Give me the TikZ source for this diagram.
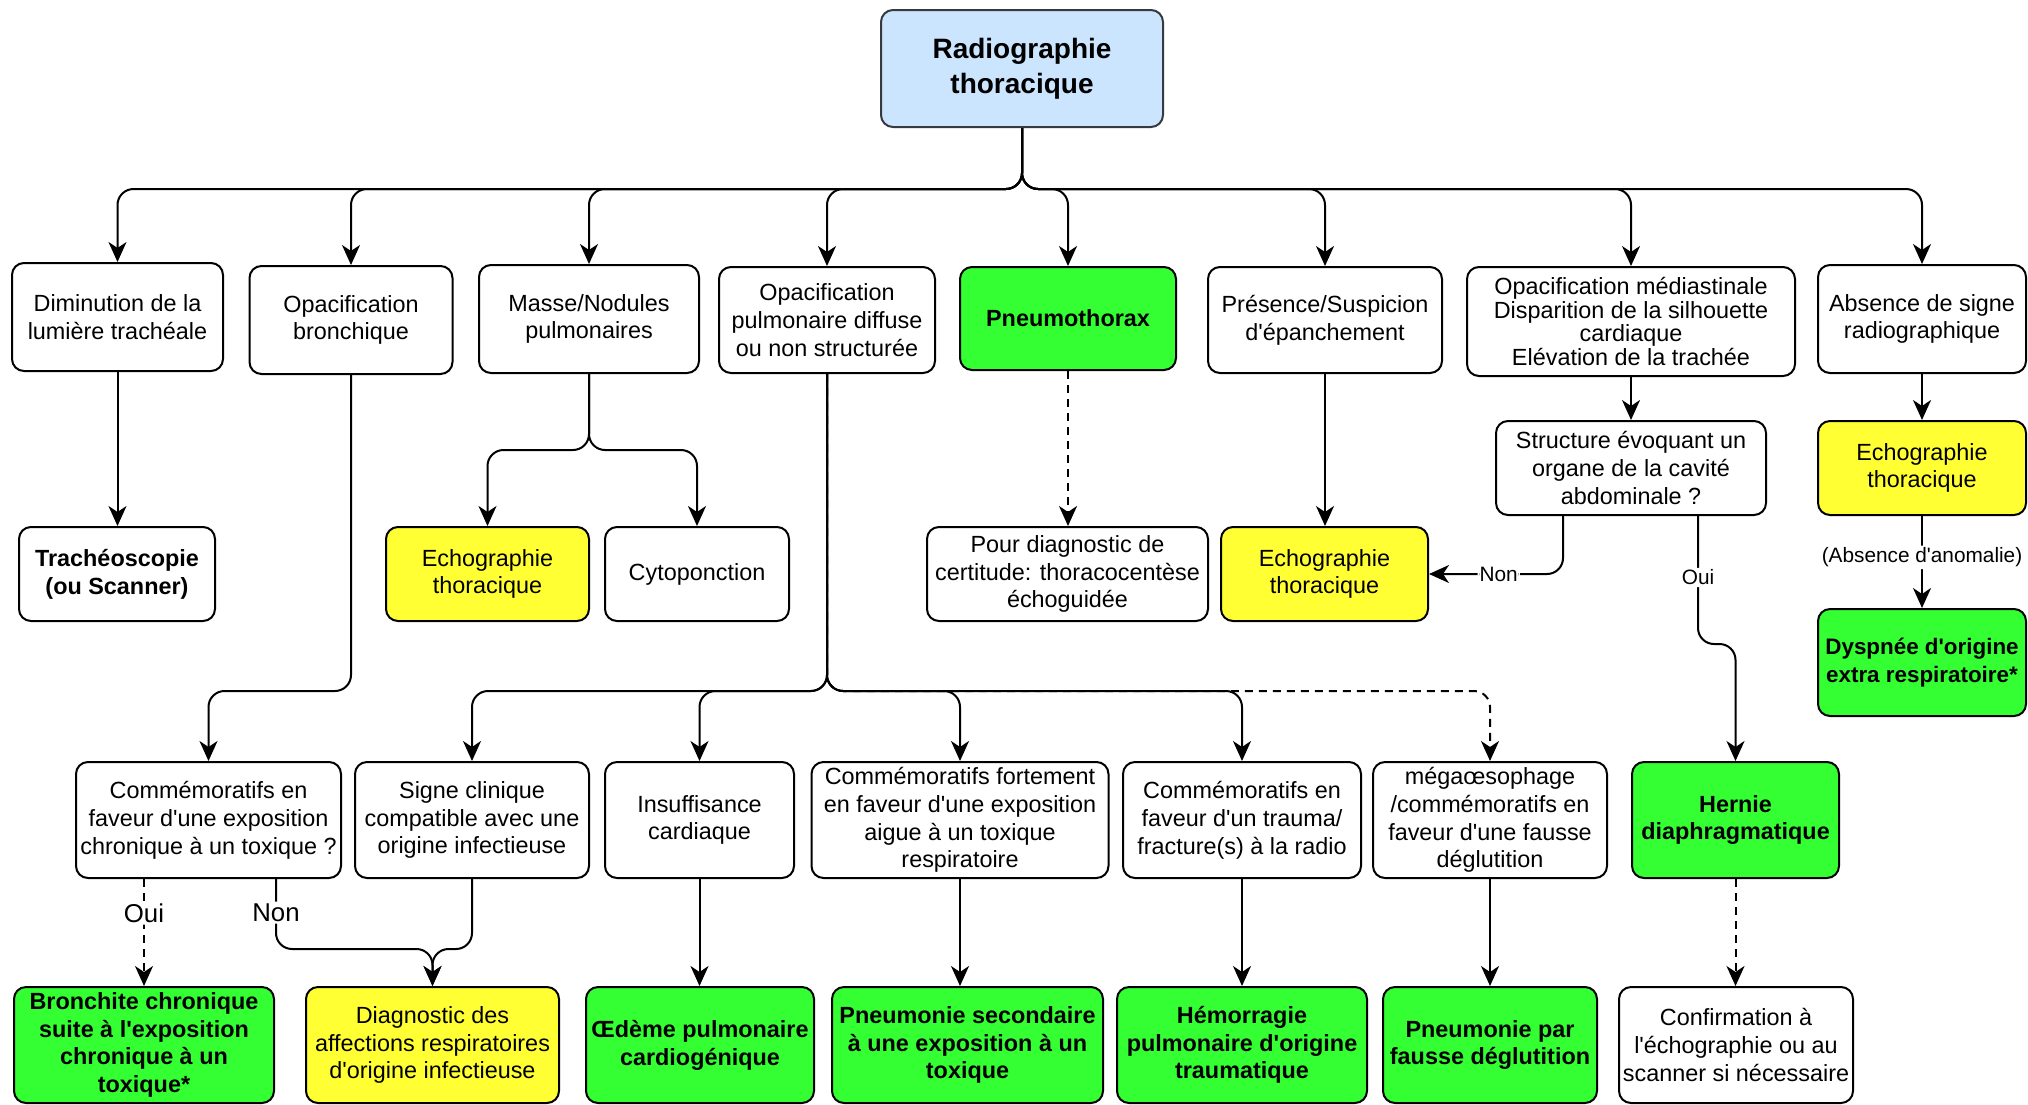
\documentclass[tikz,border=0pt]{standalone}
\usepackage{fontspec}
\setmainfont{Liberation Sans}[Ligatures=TeXOff]
\usetikzlibrary{arrows.meta,calc}
\definecolor{cblue}{HTML}{CCE5FF}
\definecolor{cyel}{HTML}{FFFF33}
\definecolor{cgrn}{HTML}{33FF33}
\definecolor{cborder}{HTML}{36393D}
\begin{document}
\begin{tikzpicture}[x=0.5pt,y=-0.5pt,
 box/.style={draw=black, line width=1pt, rounded corners=6pt, fill=white, align=center, inner sep=0pt, font=\fontsize{11.7}{13.9}\selectfont},
 sz/.style 2 args={minimum width=#1*0.5pt, minimum height=#2*0.5pt},
 yel/.style={fill=cyel},
 grn/.style={fill=cgrn, font=\fontsize{11.7}{13.9}\selectfont\bfseries},
 bld/.style={font=\fontsize{11.7}{13.9}\selectfont\bfseries},
 arr/.style={draw, line width=1pt, rounded corners=8pt, -{Stealth[length=10pt,width=9pt,inset=3pt]}},
 dsh/.style={dash pattern=on 4pt off 3pt},
 lbl/.style={fill=white, inner sep=1pt, font=\fontsize{10.4}{12}\selectfont},
 lblb/.style={fill=white, inner sep=1pt, font=\fontsize{12.9}{14}\selectfont},
]
\useasboundingbox (0,0) rectangle (2028,1104);

% root
\node[box, sz={282}{117}, fill=cblue, draw=cborder, font=\fontsize{14}{17.5}\selectfont\bfseries] (root) at (1022,68.5) {Radiographie\\thoracique};

% row 1
\node[box, sz={211}{108}] (dim) at (117.5,317) {Diminution de la\\lumière trachéale};
\node[box, sz={203}{108}] (bron) at (351,320) {Opacification\\bronchique};
\node[box, sz={220}{108}] (masse) at (589,319) {Masse/Nodules\\pulmonaires};
\node[box, sz={216}{106}] (diff) at (827,320) {Opacification\\pulmonaire diffuse\\ou non structurée};
\node[box, grn, sz={216}{103}] (pneumo) at (1068,318.5) {Pneumothorax};
\node[box, sz={234}{106}] (pres) at (1325,320) {Présence/Suspicion\\d'épanchement};
\node[box, sz={328}{109}, font=\fontsize{11.7}{11.8}\selectfont] (med) at (1631,321.5) {Opacification médiastinale\\Disparition de la silhouette\\cardiaque\\Elévation de la trachée};
\node[box, sz={208}{108}] (abs) at (1922,319) {Absence de signe\\radiographique};

% row 2
\node[box, bld, sz={196}{94}] (trach) at (117,574) {Trachéoscopie\\(ou Scanner)};
\node[box, yel, sz={203}{94}] (echo1) at (487.5,574) {Echographie\\thoracique};
\node[box, sz={184}{94}] (cyto) at (697,574) {Cytoponction};
\node[box, sz={281}{94}] (pour) at (1067.5,574) {Pour diagnostic de\\certitude: thoracocentèse\\échoguidée};
\node[box, yel, sz={207}{94}] (echo2) at (1324.5,574) {Echographie\\thoracique};
\node[box, sz={270}{94}] (struct) at (1631,468) {Structure évoquant un\\organe de la cavité\\abdominale ?};
\node[box, yel, sz={208}{94}] (echo3) at (1922,468) {Echographie\\thoracique};
\node[box, grn, sz={208}{107}, font=\fontsize{11.2}{13.9}\selectfont\bfseries] (dysp) at (1922,662.5) {Dyspnée d'origine\\extra respiratoire*};

% row 3
\node[box, sz={265}{116}] (comm1) at (208.5,820) {Commémoratifs en\\faveur d'une exposition\\chronique à un toxique ?};
\node[box, sz={234}{116}] (signe) at (472,820) {Signe clinique\\compatible avec une\\origine infectieuse};
\node[box, sz={189}{116}] (insuf) at (699.5,820) {Insuffisance\\cardiaque};
\node[box, sz={297}{116}] (fort) at (960,820) {Commémoratifs fortement\\en faveur d'une exposition\\aigue à un toxique\\respiratoire};
\node[box, sz={238}{116}] (trauma) at (1242,820) {Commémoratifs en\\faveur d'un trauma/\\fracture(s) à la radio};
\node[box, sz={234}{116}] (mega) at (1490,820) {mégaœsophage\\/commémoratifs en\\faveur d'une fausse\\déglutition};
\node[box, grn, sz={207}{116}] (hernie) at (1735.5,820) {Hernie\\diaphragmatique};

% row 4
\node[box, grn, sz={260}{116}] (bronchite) at (144,1045) {Bronchite chronique\\suite à l'exposition\\chronique à un\\toxique*};
\node[box, yel, sz={253}{116}] (diag) at (432.5,1045) {Diagnostic des\\affections respiratoires\\d'origine infectieuse};
\node[box, grn, sz={228}{116}] (oedeme) at (700,1045) {Œdème pulmonaire\\cardiogénique};
\node[box, grn, sz={271}{116}] (pneusec) at (967.5,1045) {Pneumonie secondaire\\à une exposition à un\\toxique};
\node[box, grn, sz={250}{116}] (hemo) at (1242,1045) {Hémorragie\\pulmonaire d'origine\\traumatique};
\node[box, grn, sz={214}{116}] (pneufaus) at (1490,1045) {Pneumonie par\\fausse déglutition};
\node[box, sz={234}{116}] (confirm) at (1736,1045) {Confirmation à\\l'échographie ou au\\scanner si nécessaire};

% coordinates
\coordinate (bus) at (1022,189);
\coordinate (mfork) at (589,450);
\coordinate (dbus) at (827,691);
\coordinate (dj) at (432.5,949);
\coordinate (ob) at (1735.5,644);

% edges from root
\foreach \n in {dim,bron,masse,diff,pneumo,pres,med,abs}
  \draw[arr] (root.south) -- (bus) -| (\n.north);

\draw[arr] (dim.south) -- (dim.south |- trach.north);
\draw[arr] (masse.south) -- (mfork) -| (echo1.north);
\draw[arr] (masse.south) -- (mfork) -| (cyto.north);
\draw[arr, dsh] (pneumo.south) -- (pneumo.south |- pour.north);
\draw[arr] (pres.south) -- (pres.south |- echo2.north);
\draw[arr] (med.south) -- (struct.north);
\draw[arr] (abs.south) -- (echo3.north);
\draw[arr] (echo3.south) -- node[lbl, pos=0.45]{(Absence d'anomalie)} (dysp.north);
\draw[arr] ([xshift=-34pt]struct.south) |- node[lbl, pos=0.74]{Non} (echo2.east);
\draw[arr] ([xshift=33.5pt]struct.south) |- node[lbl, pos=0.24]{Oui} (ob) -- (hernie.north);

\draw[arr] (bron.south) |- (comm1.north |- dbus) -- (comm1.north);
\foreach \n in {signe,insuf,fort,trauma}
  \draw[arr] (diff.south) -- (dbus) -| (\n.north);
\draw[arr, dsh] (diff.south) -- (dbus) -| (mega.north);

\draw[arr, dsh] (comm1.south -| bronchite.north) -- node[lblb, pos=0.32]{Oui} (bronchite.north);
\draw[arr] ([xshift=33.75pt]comm1.south) |- node[lblb, pos=0.24]{Non} (dj) -- (diag.north);
\draw[arr] (signe.south) |- (dj) -- (diag.north);
\draw[arr] (insuf.south) -- (insuf.south |- oedeme.north);
\draw[arr] (fort.south) -- (fort.south |- pneusec.north);
\draw[arr] (trauma.south) -- (hemo.north);
\draw[arr] (mega.south) -- (pneufaus.north);
\draw[arr, dsh] (hernie.south) -- (hernie.south |- confirm.north);
\end{tikzpicture}
\end{document}
